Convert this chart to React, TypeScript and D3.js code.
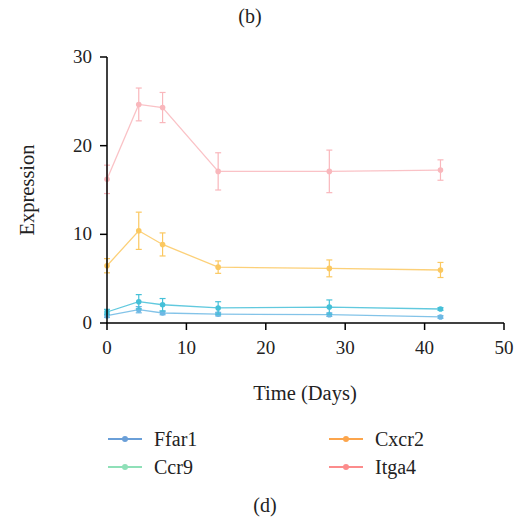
import React from "react";
import * as d3 from "d3";

const days = [0, 4, 7, 14, 28, 42];
const seriesNames = ["Ffar1", "Ccr9", "Cxcr2", "Itga4"];
const ffar1 = [0.82, 1.5, 1.13, 1.0, 0.94, 0.68];
const ffar1Err = [0.2, 0.35, 0.2, 0.2, 0.2, 0.15];
const ccr9 = [1.24, 2.4, 2.06, 1.7, 1.8, 1.58];
const ccr9Err = [0.3, 0.8, 0.7, 0.7, 0.8, 0.15];
const cxcr2 = [6.46, 10.4, 8.86, 6.3, 6.16, 5.98];
const cxcr2Err = [0.8, 2.1, 1.3, 0.7, 0.95, 0.85];
const itga4 = [16.2, 24.65, 24.3, 17.1, 17.1, 17.25];
const itga4Err = [1.6, 1.85, 1.7, 2.1, 2.4, 1.15];
const xTicks = [0, 10, 20, 30, 40, 50];
const yTicks = [0, 10, 20, 30];

const plotColors = ["#6db8e4", "#45c0d8", "#fbc860", "#f9b7bc"];
const legendColors = ["#6a9fd8", "#8fe0b8", "#fca54c", "#fc8c8c"];

const FONT = "'Liberation Serif', 'Times New Roman', serif";

export default function App() {
  const W = 529, H = 517;
  const x = d3.scaleLinear().domain([0, 50]).range([107, 504]);
  const y = d3.scaleLinear().domain([0, 30]).range([323, 57]);
  const all = [
    { v: ffar1, e: ffar1Err },
    { v: ccr9, e: ccr9Err },
    { v: cxcr2, e: cxcr2Err },
    { v: itga4, e: itga4Err },
  ];
  const line = d3.line<number>().x((_, i) => x(days[i])).y((d) => y(d));
  const order = [3, 2, 0, 1];
  const legendPos = [
    { lx: 108, ly: 439 },
    { lx: 108, ly: 467 },
    { lx: 329, ly: 439 },
    { lx: 329, ly: 467 },
  ];
  return (
    <svg width={W} height={H} style={{ position: "absolute", left: 0, top: 0 }} fontFamily={FONT}>
      <rect width={W} height={H} fill="#fff" />
      <text x={250} y={23} textAnchor="middle" fontSize={20} fill="#222">(b)</text>
      {order.map((si) => {
        const s = all[si];
        const c = plotColors[si];
        return (
          <g key={si}>
            <path d={line(s.v) || ""} fill="none" stroke={c} strokeWidth={1.3} opacity={0.85} />
            {s.v.map((v, i) => (
              <g key={i} stroke={c} strokeWidth={1.2}>
                <line x1={x(days[i])} x2={x(days[i])} y1={y(v + s.e[i])} y2={y(v - s.e[i])} />
                <line x1={x(days[i]) - 3} x2={x(days[i]) + 3} y1={y(v + s.e[i])} y2={y(v + s.e[i])} />
                <line x1={x(days[i]) - 3} x2={x(days[i]) + 3} y1={y(v - s.e[i])} y2={y(v - s.e[i])} />
              </g>
            ))}
            {s.v.map((v, i) => (
              <circle key={"c" + i} cx={x(days[i])} cy={y(v)} r={2.8} fill={c} />
            ))}
          </g>
        );
      })}
      <line x1={107} x2={107} y1={57} y2={323} stroke="#000" strokeWidth={1.5} />
      <line x1={106.25} x2={504} y1={323} y2={323} stroke="#000" strokeWidth={1.5} />
      {yTicks.map((t) => (
        <g key={t}>
          <line x1={100} x2={107} y1={y(t)} y2={y(t)} stroke="#000" strokeWidth={1.5} />
          <text x={92} y={y(t) + 6} textAnchor="end" fontSize={19} fill="#222">{t}</text>
        </g>
      ))}
      {xTicks.map((t) => (
        <g key={t}>
          <line x1={x(t)} x2={x(t)} y1={323} y2={330} stroke="#000" strokeWidth={1.5} />
          <text x={x(t)} y={354} textAnchor="middle" fontSize={19} fill="#222">{t}</text>
        </g>
      ))}
      <text x={305} y={400} textAnchor="middle" fontSize={20.5} fill="#222">Time (Days)</text>
      <text transform={`translate(34,190) rotate(-90)`} textAnchor="middle" fontSize={20.5} fill="#222">Expression</text>
      {seriesNames.map((n, i) => {
        const p = legendPos[i];
        return (
          <g key={n}>
            <line x1={p.lx} x2={p.lx + 34} y1={p.ly} y2={p.ly} stroke={legendColors[i]} strokeWidth={2} />
            <circle cx={p.lx + 17} cy={p.ly} r={3} fill={legendColors[i]} />
            <text x={p.lx + 46} y={p.ly + 6.5} fontSize={20} fill="#222">{n}</text>
          </g>
        );
      })}
      <text x={265} y={512} textAnchor="middle" fontSize={20} fill="#222">(d)</text>
    </svg>
  );
}
